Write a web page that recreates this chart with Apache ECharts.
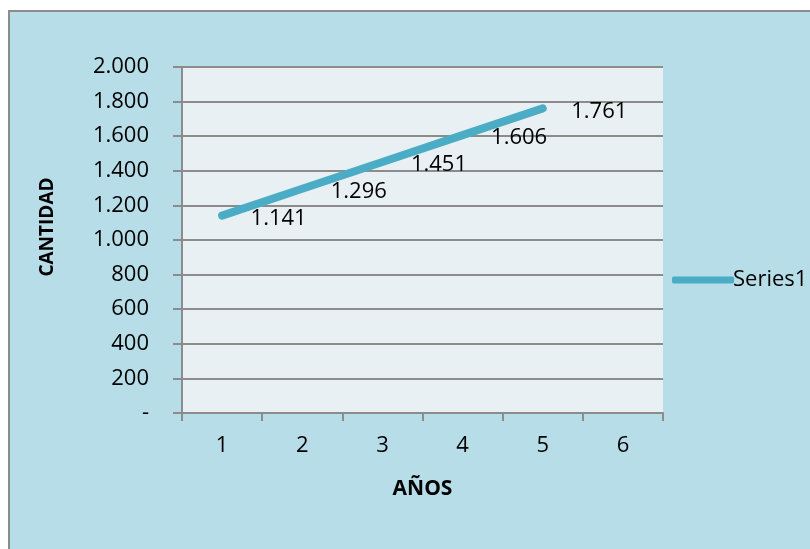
<!DOCTYPE html>
<html>
<head>
<meta charset="utf-8">
<script src="https://cdn.jsdelivr.net/npm/echarts@6/dist/echarts.min.js"></script>
<style>
  html, body { margin: 0; padding: 0; background: #fff; }
  #main { width: 810px; height: 549px; }
</style>
</head>
<body>
<div id="main"></div>
<script>
var myChart = echarts.init(document.getElementById('main'));

var years = ['1', '2', '3', '4', '5', '6'];
var series1 = [1141, 1296, 1451, 1606, 1761];

// es-ES style: thousands with a dot, zero shown as a dash
function fmt(v) {
  if (v === 0) return '-';
  return String(v).replace(/\B(?=(\d{3})+(?!\d))/g, '.');
}

var font = '"Open Sans", sans-serif';

var option = {
  backgroundColor: '#ffffff',
  animation: false,
  graphic: [{
    type: 'rect',
    z: -10,
    shape: { x: 9, y: 11, width: 820, height: 560 },
    style: { fill: '#b7dde8', stroke: '#8c8c8c', lineWidth: 2 }
  }],
  grid: { left: 182, right: 147, top: 67, bottom: 136, show: true,
          backgroundColor: '#e8f0f3', borderWidth: 0 },
  legend: {
    orient: 'vertical',
    left: 667,
    top: 264,
    data: [{ name: 'Series1', icon: 'roundRect',
             itemStyle: { color: '#4bacc6', opacity: 1 } }],
    itemWidth: 62,
    itemHeight: 7,
    itemGap: 0,
    textStyle: { fontFamily: font, fontSize: 22, color: '#000', padding: [0, 0, 0, -6] }
  },
  xAxis: {
    type: 'category',
    data: years,
    name: 'AÑOS',
    nameLocation: 'middle',
    nameGap: 66,
    nameTextStyle: { fontFamily: font, fontSize: 21, fontWeight: 'bold', color: '#000' },
    axisLine: { lineStyle: { color: '#8c8c8c', width: 2 } },
    axisTick: { show: true, length: 8, lineStyle: { color: '#8c8c8c', width: 2 } },
    axisLabel: { fontFamily: font, fontSize: 22, color: '#000', margin: 22 }
  },
  yAxis: {
    type: 'value',
    min: 0,
    max: 2000,
    interval: 200,
    name: 'CANTIDAD',
    nameLocation: 'middle',
    nameGap: 125,
    nameRotate: 90,
    nameTextStyle: { fontFamily: font, fontSize: 19, fontWeight: 'bold', color: '#000',
                     padding: [0, 0, 0, 26] },
    axisLine: { show: true, lineStyle: { color: '#8c8c8c', width: 2 } },
    axisTick: { show: true, length: 9, lineStyle: { color: '#8c8c8c', width: 2 } },
    splitLine: { lineStyle: { color: '#8c8c8c', width: 2 } },
    axisLabel: { fontFamily: font, fontSize: 22, color: '#000', margin: 33, formatter: fmt }
  },
  series: [{
    name: 'Series1',
    type: 'line',
    data: series1,
    showSymbol: true,
    symbol: 'circle',
    symbolSize: 1,
    itemStyle: { color: '#4bacc6' },
    color: '#4bacc6',
    lineStyle: { width: 8, cap: 'round', color: '#4bacc6' },
    label: {
      show: true,
      position: 'right',
      distance: 28,
      offset: [0, 3],
      fontFamily: font,
      fontSize: 22,
      color: '#000',
      formatter: function (p) { return fmt(p.value); }
    }
  }]
};
myChart.setOption(option);
</script>
</body>
</html>
